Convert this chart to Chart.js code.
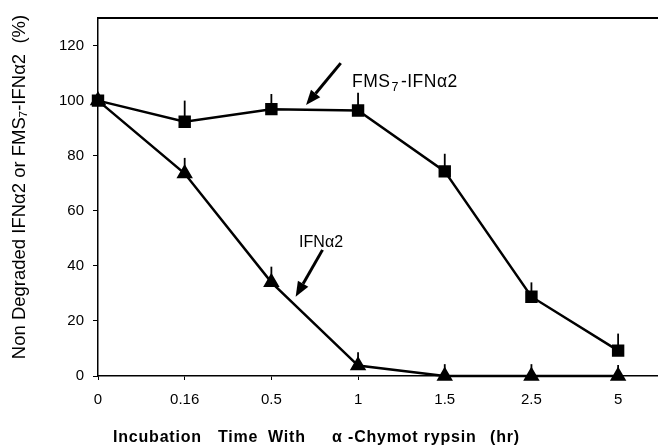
<!DOCTYPE html>
<html>
<head>
<meta charset="utf-8">
<script src="https://cdn.jsdelivr.net/npm/chart.js@4/dist/chart.umd.min.js"></script>
<style>
  html, body { margin: 0; padding: 0; background: #fff; }
  #wrap { width: 658px; height: 447px; }
</style>
</head>
<body>
<div id="wrap"><canvas id="chart"></canvas></div>
<script>
// incubation times (category labels on the x axis)
const categories = ['0', '0.16', '0.5', '1', '1.5', '2.5', '5'];
const yTicks = [0, 20, 40, 60, 80, 100, 120];

// % non degraded
const fmsValues = [100, 92.3, 96.9, 96.4, 74.3, 28.8, 9.2];
const fmsErrors = [0, 7.7, 5.5, 6.5, 6.4, 5.2, 6.2];
const ifnValues = [100, 73.5, 34, 3.8, 0, 0, 0];
const ifnErrors = [0, 5.7, 5.7, 4.8, 4.3, 4.3, 4.0];

// labels and arrows, in data units
const labels = [
    { text: 'FMS', sub: '7', rest: '-IFN\u03b12', x: 2.93, y: 106.7, size: 17.5, spacing: 0.5 },
    { text: 'IFN\u03b12', sub: '', rest: '', x: 2.32, y: 48.5, size: 16, spacing: 0 },
];
const arrows = [
    { from: [2.80, 113.6], to: [2.40, 98.4] },
    { from: [2.59, 45.8], to: [2.28, 28.8] },
];
// x title pieces, offset from the left of the plot
const xTitle = [['Incubation', 15], ['Time', 120], ['With', 170], ['\u03b1', 234], ['-Chymot rypsin', 250], ['(hr)', 392]];

const FONT = '"Liberation Sans", Arial, sans-serif';
const toPoints = vals => vals.map((v, i) => ({ x: i, y: v }));

const errorBars = {
    id: 'errorBars',
    beforeDatasetsDraw(chart) {
        const { ctx, scales: { x, y } } = chart;
        ctx.save();
        ctx.strokeStyle = '#000';
        ctx.lineWidth = 1.8;
        [[fmsValues, fmsErrors], [ifnValues, ifnErrors]].forEach(([vals, errs]) => {
            vals.forEach((v, i) => {
                if (!errs[i]) return;
                const px = x.getPixelForValue(i);
                ctx.beginPath();
                ctx.moveTo(px, y.getPixelForValue(v));
                ctx.lineTo(px, y.getPixelForValue(v + errs[i]));
                ctx.stroke();
            });
        });
        ctx.restore();
    },
};

const extras = {
    id: 'extras',
    afterDraw(chart) {
        const { ctx, chartArea, scales: { x, y } } = chart;
        ctx.save();
        // top frame line
        ctx.strokeStyle = '#000';
        ctx.lineWidth = 2;
        ctx.beginPath();
        ctx.moveTo(chartArea.left, chartArea.top);
        ctx.lineTo(chartArea.right, chartArea.top);
        ctx.stroke();

        // arrows
        ctx.fillStyle = '#000';
        arrows.forEach(a => {
            const x1 = x.getPixelForValue(a.from[0]), y1 = y.getPixelForValue(a.from[1]);
            const x2 = x.getPixelForValue(a.to[0]), y2 = y.getPixelForValue(a.to[1]);
            const ang = Math.atan2(y2 - y1, x2 - x1);
            const headLen = 15, headW = 6;
            const bx = x2 - headLen * Math.cos(ang), by = y2 - headLen * Math.sin(ang);
            ctx.lineWidth = 3;
            ctx.beginPath();
            ctx.moveTo(x1, y1);
            ctx.lineTo(bx, by);
            ctx.stroke();
            ctx.beginPath();
            ctx.moveTo(x2, y2);
            ctx.lineTo(bx + headW * Math.sin(ang), by - headW * Math.cos(ang));
            ctx.lineTo(bx - headW * Math.sin(ang), by + headW * Math.cos(ang));
            ctx.closePath();
            ctx.fill();
        });

        // annotation text
        ctx.textBaseline = 'middle';
        ctx.textAlign = 'left';
        labels.forEach(l => {
            let px = x.getPixelForValue(l.x);
            const py = y.getPixelForValue(l.y);
            ctx.letterSpacing = l.spacing + 'px';
            ctx.font = l.size + 'px ' + FONT;
            ctx.fillText(l.text, px, py);
            px += ctx.measureText(l.text).width;
            if (l.sub) {
                ctx.font = '12.5px ' + FONT;
                ctx.fillText(l.sub, px + 1, py + 5);
                px += ctx.measureText(l.sub).width + 3;
                ctx.font = l.size + 'px ' + FONT;
                ctx.fillText(l.rest, px, py);
            }
        });
        ctx.letterSpacing = '0px';

        // y axis title
        ctx.save();
        ctx.translate(20, 187);
        ctx.rotate(-Math.PI / 2);
        ctx.textAlign = 'center';
        ctx.font = '18.5px ' + FONT;
        ctx.fillText('Non Degraded IFN\u03b12 or FMS\u2087-IFN\u03b12  (%)', 0, 0);
        ctx.restore();

        // x axis title
        ctx.font = 'bold 16px ' + FONT;
        ctx.letterSpacing = '0.8px';
        ctx.textBaseline = 'middle';
        xTitle.forEach(([t, dx]) => ctx.fillText(t, chartArea.left + dx, 438));
        ctx.restore();
    },
};

new Chart(document.getElementById('chart'), {
    type: 'line',
    data: {
        datasets: [
            {
                label: 'FMS7-IFNa2',
                data: toPoints(fmsValues),
                borderColor: '#000',
                backgroundColor: '#000',
                borderWidth: 2.5,
                pointStyle: 'rect',
                pointRadius: 7,
                pointHoverRadius: 7,
                clip: false,
            },
            {
                label: 'IFNa2',
                data: toPoints(ifnValues),
                borderColor: '#000',
                backgroundColor: '#000',
                borderWidth: 2.5,
                pointStyle: 'triangle',
                pointRadius: 7,
                pointHoverRadius: 7,
                clip: false,
            },
        ],
    },
    options: {
        responsive: true,
        maintainAspectRatio: false,
        animation: false,
        layout: { autoPadding: false, padding: { top: 15, right: 0, left: 0, bottom: 0 } },
        plugins: {
            legend: { display: false },
            tooltip: { enabled: false },
        },
        scales: {
            x: {
                type: 'linear',
                min: 0,
                max: 6.46,
                afterBuildTicks: s => { s.ticks = categories.map((c, i) => ({ value: i })); },
                afterFit: s => { s.height = 71; s.paddingRight = 0; s.paddingLeft = 0; },
                ticks: {
                    callback: v => categories[v],
                    color: '#000',
                    font: { size: 15, family: FONT },
                    padding: 11,
                    maxRotation: 0,
                },
                grid: { drawOnChartArea: false, color: '#000', tickLength: 4, lineWidth: 1 },
                border: { color: '#000', width: 1.5 },
            },
            y: {
                min: 0,
                max: 130,
                afterBuildTicks: s => { s.ticks = yTicks.map(v => ({ value: v })); },
                afterFit: s => { s.width = 98; },
                ticks: {
                    color: '#000',
                    font: { size: 15, family: FONT },
                    padding: 9,
                },
                grid: { drawOnChartArea: false, color: '#000', tickLength: 5, lineWidth: 1 },
                border: { color: '#000', width: 1.5 },
            },
        },
    },
    plugins: [errorBars, extras],
});
</script>
</body>
</html>
